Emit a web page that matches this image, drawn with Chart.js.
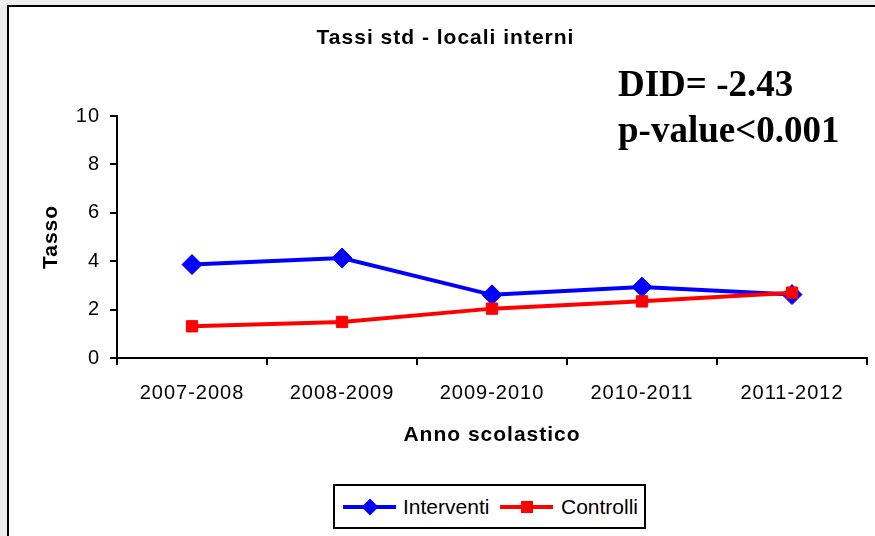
<!DOCTYPE html>
<html>
<head>
<meta charset="utf-8">
<script src="https://cdn.jsdelivr.net/npm/chart.js@4"></script>
<style>
  html, body { margin: 0; padding: 0; }
  body { width: 875px; height: 536px; overflow: hidden; background: #eeeeee; position: relative; font-family: "Liberation Sans", Arial, sans-serif; }
  .frame { position: absolute; left: 7px; top: 5px; width: 900px; height: 560px; border: 2px solid #000; background: #fff; }
  .chart-box { position: absolute; left: 0; top: 0; width: 878px; height: 536px; }
  .did { position: absolute; left: 618px; top: 61px; font: bold 37px "Liberation Serif", "Times New Roman", serif; line-height: 46px; color: #000; white-space: nowrap; }
  .legend { position: absolute; left: 333px; top: 484px; width: 309px; height: 41px; border: 2px solid #000; background: #fff; }
  .leg-item { position: absolute; top: 0; height: 41px; line-height: 41px; font-size: 21px; color: #000; }
  .leg-line { position: absolute; top: 19px; width: 53px; height: 4px; }
  .leg-mark { position: absolute; }
</style>
</head>
<body>
<div class="frame"></div>
<div class="chart-box"><canvas id="c1" width="878" height="536"></canvas></div>
<div class="did">DID= -2.43<br>p-value&lt;0.001</div>
<div class="legend">
  <div class="leg-line" style="left:8px;background:#0000ff"></div>
  <div class="leg-mark" style="left:29px;top:15px;width:12px;height:12px;background:#0000ff;transform:rotate(45deg)"></div>
  <div class="leg-item" style="left:68px">Interventi</div>
  <div class="leg-line" style="left:165px;background:#ff0000"></div>
  <div class="leg-mark" style="left:186px;top:15px;width:12px;height:12px;background:#ff0000"></div>
  <div class="leg-item" style="left:226px">Controlli</div>
</div>
<script>
const years = ["2007-2008", "2008-2009", "2009-2010", "2010-2011", "2011-2012"];
const interventi = [3.86, 4.13, 2.61, 2.93, 2.62];
const controlli = [1.31, 1.49, 2.04, 2.34, 2.70];
const yTicks = [0, 2, 4, 6, 8, 10];

const FONT = "'Liberation Sans', Arial, sans-serif";

// the original's labels are a bit spread out
const spacing = {
  id: "spacing",
  beforeDraw(chart) { chart.ctx.letterSpacing = "1px"; },
};

new Chart(document.getElementById("c1"), {
  type: "line",
  data: {
    labels: years,
    datasets: [
      {
        label: "Interventi",
        data: interventi,
        borderColor: "#0000ff",
        backgroundColor: "#0000ff",
        borderWidth: 4,
        pointStyle: "rectRot",
        pointRadius: 10,
        pointBorderWidth: 1,
        tension: 0,
        order: 1,
      },
      {
        label: "Controlli",
        data: controlli,
        borderColor: "#ff0000",
        backgroundColor: "#ff0000",
        borderWidth: 4,
        pointStyle: "rect",
        pointRadius: 8,
        pointBorderWidth: 1,
        tension: 0,
        order: 0,
      },
    ],
  },
  options: {
    responsive: false,
    animation: false,
    // left padding pushes the title centre right, like the original
    layout: { padding: { left: 21, right: 8, top: 0, bottom: 0 } },
    plugins: {
      legend: { display: false },
      tooltip: { enabled: false },
      title: {
        display: true,
        text: "Tassi std - locali interni",
        color: "#000",
        font: { family: FONT, size: 21, weight: "bold" },
        padding: { top: 26, bottom: 64.8 },
      },
    },
    scales: {
      x: {
        offset: true,
        grid: { offset: true, drawOnChartArea: false, drawTicks: true, tickLength: 7, color: "#000", lineWidth: 2 },
        border: { color: "#000", width: 2 },
        ticks: { color: "#000", font: { family: FONT, size: 20 }, padding: 16, maxRotation: 0 },
        title: { display: true, text: "Anno scolastico", color: "#000", font: { family: FONT, size: 21, weight: "bold" }, padding: { top: 0, bottom: 88 } },
        afterFit: (s) => { s.height = 178; s.paddingLeft = 0; s.paddingRight = 0; },
      },
      y: {
        min: 0,
        max: 10,
        afterBuildTicks: (s) => { s.ticks = yTicks.map((v) => ({ value: v })); },
        grid: { drawOnChartArea: false, drawTicks: true, tickLength: 7, color: "#000", lineWidth: 2 },
        border: { color: "#000", width: 2 },
        ticks: { color: "#000", font: { family: FONT, size: 20 }, padding: 10 },
        title: { display: true, text: "Tasso", color: "#000", font: { family: FONT, size: 21, weight: "bold" }, padding: { top: 17.4, bottom: 0 } },
        afterFit: (s) => { s.width = 96; },
      },
    },
  },
  plugins: [spacing],
});
</script>
</body>
</html>
